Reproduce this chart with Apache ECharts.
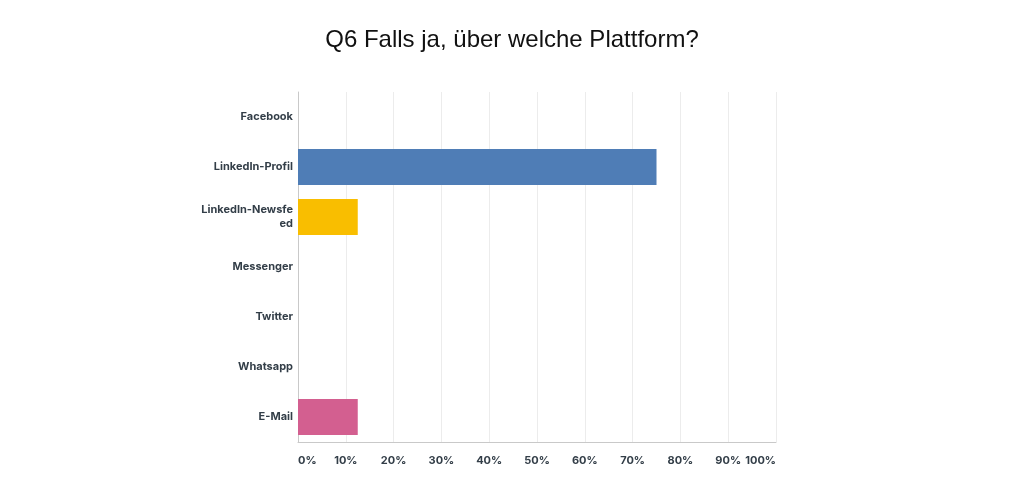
<!DOCTYPE html>
<html><head><meta charset="utf-8">
<script src="https://cdn.jsdelivr.net/npm/echarts@6/dist/echarts.min.js"></script>
<style>html,body{margin:0;padding:0;background:#fff}#c{width:1024px;height:495px}</style>
</head><body><div id="c"></div>
<script>
const categories = ["Facebook","LinkedIn-Profil","LinkedIn-Newsfeed","Messenger","Twitter","Whatsapp","E-Mail"];
const values = [0, 75, 12.5, 0, 0, 0, 12.5];
const colors = ["#6a9fd4","#4f7db6","#f9be00","#5fb3a3","#7a5fa8","#8cc04a","#d35f90"];
const tickLabels = ["0%","10%","20%","30%","40%","50%","60%","70%","80%","90%","100%"];
const titleText = "Q6 Falls ja, über welche Plattform?";

const chart = echarts.init(document.getElementById('c'));
chart.setOption({
  animation:false,
  title:{text:titleText,left:'center',top:23,textStyle:{fontFamily:'Liberation Sans, Arial',fontSize:24,fontWeight:'normal',color:'#111'}},
  grid:{left:298,right:248,top:92,bottom:53,containLabel:false},
  xAxis:{type:'value',min:0,max:100,interval:10,
    axisLine:{show:true,lineStyle:{color:'#c9c9c9'}},
    axisTick:{show:false},
    splitLine:{show:true,lineStyle:{color:'#ececec',width:1}},
    axisLabel:{margin:13,color:'#333e48',fontFamily:'Inter, Roboto, sans-serif',fontSize:11,fontWeight:'bold',
      alignMinLabel:'left',alignMaxLabel:'right',
      formatter:(v)=>tickLabels[Math.round(v/10)]}},
  yAxis:{type:'category',data:categories,inverse:true,
    axisLine:{show:true,lineStyle:{color:'#c9c9c9'}},
    axisTick:{show:false},
    axisLabel:{margin:5,color:'#333e48',fontFamily:'Inter, Roboto, sans-serif',fontSize:11,fontWeight:'bold',lineHeight:14,align:'right',
      formatter:(s)=>{const parts=[];for(let i=0;i<s.length;i+=15)parts.push(s.slice(i,i+15));return parts.join('\n');}}},
  series:[{type:'bar',barWidth:36,
    data:values.map((v,i)=>({value:v,itemStyle:{color:colors[i]}}))}]
});
</script></body></html>
